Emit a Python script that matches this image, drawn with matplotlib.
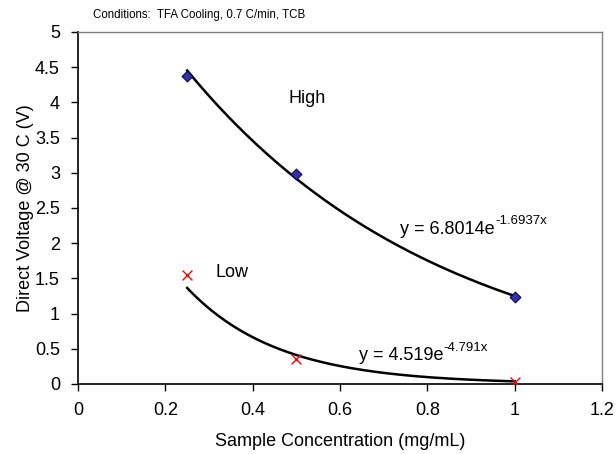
import numpy as np
import matplotlib.pyplot as plt

plt.rcParams['font.family'] = ['Liberation Sans', 'DejaVu Sans']

# measured direct voltages at each concentration
conc = [0.25, 0.5, 1.0]
high_v = [4.38, 2.99, 1.24]
low_v = [1.55, 0.35, 0.03]

# exponential trendline coefficients (y = a*e^(b*x))
high_fit = (6.8014, -1.6937)
low_fit = (4.519, -4.791)

x_ticks = [0, 0.2, 0.4, 0.6, 0.8, 1, 1.2]
y_ticks = [0, 0.5, 1, 1.5, 2, 2.5, 3, 3.5, 4, 4.5, 5]

fig = plt.figure(figsize=(6.16, 4.54), dpi=100)
ax = fig.add_axes([78/616, 70/454, 524/616, 352/454])

# trendlines over the measured range
xs = np.linspace(conc[0], conc[-1], 200)
ax.plot(xs, high_fit[0]*np.exp(high_fit[1]*xs), color='black', lw=1.8, zorder=2)
ax.plot(xs, low_fit[0]*np.exp(low_fit[1]*xs), color='black', lw=1.8, zorder=2)

ax.scatter(conc, high_v, marker='D', s=30, color='#333399', edgecolor='#000080',
           linewidth=0.8, zorder=3)
ax.scatter(conc, low_v, marker='x', s=50, color='red', linewidth=1.0, zorder=3)

ax.set_xlim(0, 1.2)
ax.set_ylim(0, 5)
ax.set_xticks(x_ticks)
ax.set_xticklabels([f'{t:g}' for t in x_ticks])
ax.set_yticks(y_ticks)
ax.set_yticklabels([f'{t:g}' for t in y_ticks])
ax.tick_params(labelsize=13, length=5, width=1, direction='out', pad=8)

for side in ['top', 'right']:
    ax.spines[side].set_color('#808080')
    ax.spines[side].set_linewidth(1)
for side in ['left', 'bottom']:
    ax.spines[side].set_linewidth(1.2)

ax.set_xlabel('Sample Concentration (mg/mL)', fontsize=13, labelpad=10)
ax.set_ylabel('Direct Voltage @ 30 C (V)', fontsize=13, labelpad=1)

ax.text(0.483, 4.06, 'High', fontsize=13, va='center')
ax.text(0.314, 1.59, 'Low', fontsize=13, va='center')


def fit_label(x, y, a, b):
    # base text plus a raised exponent placed right after it
    t = ax.text(x, y, f'y = {a}e', fontsize=13, va='center')
    ax.annotate(f'{b}x', xy=(1, 0.62), xycoords=t, fontsize=9.5, va='bottom')


fit_label(0.738, 2.2, '6.8014', '-1.6937')
fit_label(0.643, 0.4, '4.519', '-4.791')

fig.text(93/616, 1 - 15/454, 'Conditions:  TFA Cooling, 0.7 C/min, TCB', fontsize=8.3, va='center')

fig.savefig('out.png', dpi=100)
